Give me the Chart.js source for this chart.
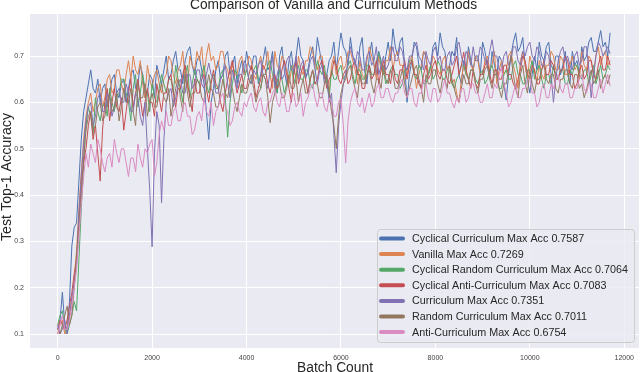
<!DOCTYPE html>
<html>
<head>
<meta charset="utf-8">
<script src="https://cdn.jsdelivr.net/npm/chart.js@4/dist/chart.umd.min.js"></script>
<style>
html,body{margin:0;padding:0;background:#fff;}
#wrap{width:640px;height:372px;position:relative;}
</style>
</head>
<body>
<div id="wrap"><canvas id="c" width="640" height="372"></canvas></div>
<script>
const chartTitle = "Comparison of Vanilla and Curriculum Methods";
const xAxisTitle = "Batch Count";
const yAxisTitle = "Test Top-1 Accuracy";
const xTickValues = [0, 2000, 4000, 6000, 8000, 10000, 12000];
const yTickValues = [0.1, 0.2, 0.3, 0.4, 0.5, 0.6, 0.7];

const batchCount = [
0,50,100,150,200,250,300,350,400,450,500,550,600,650,700,750,800,850,900,950,
1000,1050,1100,1150,1200,1250,1300,1350,1400,1450,1500,1550,1600,1650,1700,1750,1800,1850,1900,1950,
2000,2050,2100,2150,2200,2250,2300,2350,2400,2450,2500,2550,2600,2650,2700,2750,2800,2850,2900,2950,
3000,3050,3100,3150,3200,3250,3300,3350,3400,3450,3500,3550,3600,3650,3700,3750,3800,3850,3900,3950,
4000,4050,4100,4150,4200,4250,4300,4350,4400,4450,4500,4550,4600,4650,4700,4750,4800,4850,4900,4950,
5000,5050,5100,5150,5200,5250,5300,5350,5400,5450,5500,5550,5600,5650,5700,5750,5800,5850,5900,5950,
6000,6050,6100,6150,6200,6250,6300,6350,6400,6450,6500,6550,6600,6650,6700,6750,6800,6850,6900,6950,
7000,7050,7100,7150,7200,7250,7300,7350,7400,7450,7500,7550,7600,7650,7700,7750,7800,7850,7900,7950,
8000,8050,8100,8150,8200,8250,8300,8350,8400,8450,8500,8550,8600,8650,8700,8750,8800,8850,8900,8950,
9000,9050,9100,9150,9200,9250,9300,9350,9400,9450,9500,9550,9600,9650,9700,9750,9800,9850,9900,9950,
10000,10050,10100,10150,10200,10250,10300,10350,10400,10450,10500,10550,10600,10650,10700,10750,10800,10850,10900,10950,
11000,11050,11100,11150,11200,11250,11300,11350,11400,11450,11500,11550,11600,11650,11700];

const seriesNames = [
"Cyclical Curriculum Max Acc 0.7587",
"Vanilla Max Acc 0.7269",
"Cyclical Random Curriculum Max Acc 0.7064",
"Cyclical Anti-Curriculum Max Acc 0.7083",
"Curriculum Max Acc 0.7351",
"Random Curriculum Max Acc 0.7011",
"Anti-Curriculum Max Acc 0.6754"];

const seriesColors = ["#4C72B0","#DD8452","#55A868","#C44E52","#8172B3","#937860","#DA8BC3"];

const cyclicalCurriculum = [
0.11,0.13,0.19,0.12,0.11,0.17,0.29,0.33,0.34,0.43,0.52,0.58,0.61,0.64,0.67,0.63,0.62,0.65,0.60,0.63,
0.64,0.59,0.62,0.65,0.66,0.62,0.61,0.64,0.65,0.60,0.63,0.66,0.67,0.63,0.64,0.68,0.66,0.61,0.62,0.66,
0.65,0.61,0.68,0.66,0.64,0.67,0.70,0.65,0.66,0.69,0.71,0.67,0.67,0.64,0.69,0.71,0.72,0.68,0.66,0.69,
0.70,0.67,0.64,0.58,0.52,0.60,0.63,0.67,0.69,0.65,0.66,0.70,0.71,0.66,0.68,0.70,0.64,0.67,0.69,0.66,
0.71,0.68,0.67,0.70,0.70,0.64,0.66,0.69,0.72,0.67,0.68,0.71,0.65,0.62,0.70,0.72,0.67,0.64,0.69,0.71,
0.66,0.70,0.74,0.70,0.69,0.65,0.67,0.70,0.72,0.68,0.74,0.71,0.68,0.65,0.66,0.69,0.70,0.73,0.67,0.71,
0.75,0.72,0.71,0.68,0.74,0.70,0.69,0.66,0.72,0.74,0.67,0.64,0.70,0.73,0.68,0.66,0.71,0.69,0.66,0.70,
0.73,0.69,0.7587,0.72,0.70,0.73,0.74,0.68,0.60,0.66,0.69,0.73,0.72,0.68,0.67,0.71,0.70,0.66,0.68,0.72,
0.73,0.70,0.75,0.72,0.71,0.67,0.68,0.71,0.70,0.74,0.66,0.64,0.69,0.67,0.72,0.69,0.67,0.70,0.70,0.66,
0.73,0.71,0.68,0.65,0.71,0.68,0.66,0.70,0.69,0.64,0.605,0.66,0.70,0.73,0.75,0.71,0.72,0.74,0.68,0.65,
0.62,0.66,0.70,0.67,0.73,0.70,0.69,0.72,0.73,0.68,0.67,0.70,0.70,0.66,0.68,0.71,0.66,0.64,0.71,0.68,
0.69,0.66,0.72,0.69,0.70,0.73,0.74,0.71,0.71,0.73,0.755,0.72,0.73,0.70,0.75];

const vanilla = [
0.10,0.12,0.13,0.10,0.11,0.14,0.17,0.22,0.28,0.37,0.45,0.52,0.57,0.60,0.62,0.58,0.60,0.63,0.64,0.59,
0.61,0.65,0.66,0.62,0.63,0.67,0.67,0.64,0.62,0.66,0.69,0.65,0.70,0.67,0.66,0.69,0.64,0.61,0.68,0.65,
0.63,0.66,0.67,0.64,0.62,0.65,0.66,0.70,0.69,0.66,0.64,0.67,0.68,0.71,0.65,0.63,0.70,0.68,0.67,0.71,
0.69,0.72,0.66,0.70,0.7269,0.69,0.70,0.67,0.68,0.71,0.71,0.68,0.67,0.64,0.69,0.66,0.66,0.69,0.70,0.66,
0.67,0.70,0.69,0.66,0.65,0.68,0.70,0.67,0.68,0.71,0.66,0.63,0.71,0.68,0.67,0.70,0.69,0.67,0.64,0.67,
0.68,0.65,0.70,0.67,0.66,0.69,0.69,0.72,0.71,0.68,0.67,0.70,0.70,0.66,0.65,0.62,0.68,0.70,0.66,0.69,
0.70,0.67,0.68,0.71,0.71,0.69,0.67,0.64,0.69,0.66,0.65,0.69,0.72,0.70,0.68,0.65,0.70,0.67,0.66,0.69,
0.69,0.72,0.67,0.70,0.71,0.68,0.68,0.65,0.66,0.69,0.70,0.67,0.63,0.66,0.68,0.71,0.70,0.66,0.67,0.70,
0.69,0.67,0.66,0.69,0.70,0.67,0.68,0.64,0.65,0.62,0.60,0.65,0.68,0.66,0.71,0.68,0.67,0.70,0.69,0.66,
0.66,0.69,0.70,0.67,0.68,0.71,0.64,0.67,0.69,0.66,0.67,0.70,0.71,0.68,0.66,0.63,0.69,0.71,0.68,0.65,
0.70,0.68,0.67,0.64,0.69,0.66,0.65,0.68,0.68,0.71,0.70,0.67,0.67,0.70,0.69,0.66,0.66,0.68,0.70,0.67,
0.68,0.65,0.71,0.68,0.67,0.70,0.69,0.66,0.70,0.72,0.68,0.70,0.71,0.68,0.69];

const cyclicalRandomCurriculum = [
0.12,0.14,0.15,0.11,0.10,0.12,0.14,0.17,0.15,0.26,0.37,0.47,0.55,0.59,0.57,0.53,0.61,0.58,0.56,0.59,
0.60,0.57,0.63,0.60,0.58,0.61,0.62,0.65,0.65,0.62,0.60,0.56,0.63,0.66,0.59,0.62,0.66,0.63,0.62,0.58,
0.64,0.61,0.60,0.63,0.66,0.64,0.62,0.65,0.65,0.62,0.68,0.65,0.63,0.60,0.66,0.68,0.61,0.64,0.67,0.65,
0.64,0.66,0.68,0.64,0.62,0.65,0.66,0.63,0.63,0.66,0.67,0.61,0.525,0.60,0.64,0.67,0.66,0.64,0.62,0.65,
0.67,0.65,0.64,0.67,0.68,0.65,0.63,0.66,0.66,0.68,0.69,0.66,0.64,0.62,0.67,0.65,0.62,0.64,0.66,0.68,
0.64,0.66,0.68,0.65,0.65,0.67,0.67,0.64,0.63,0.66,0.69,0.67,0.66,0.68,0.64,0.61,0.67,0.65,0.65,0.67,
0.68,0.65,0.66,0.68,0.69,0.66,0.64,0.67,0.67,0.65,0.65,0.68,0.68,0.66,0.66,0.69,0.7064,0.68,0.67,0.64,
0.65,0.67,0.68,0.66,0.66,0.63,0.64,0.67,0.67,0.69,0.69,0.66,0.65,0.68,0.67,0.64,0.64,0.66,0.68,0.65,
0.66,0.69,0.68,0.65,0.65,0.67,0.67,0.64,0.63,0.65,0.66,0.68,0.68,0.66,0.65,0.67,0.67,0.65,0.64,0.66,
0.67,0.64,0.65,0.67,0.68,0.66,0.66,0.63,0.63,0.66,0.67,0.65,0.65,0.68,0.69,0.66,0.66,0.64,0.64,0.67,
0.67,0.69,0.65,0.67,0.68,0.65,0.63,0.66,0.66,0.64,0.68,0.66,0.65,0.67,0.67,0.64,0.64,0.67,0.66,0.68,
0.68,0.66,0.65,0.67,0.67,0.64,0.66,0.68,0.64,0.66,0.68,0.65,0.66,0.68,0.67];

const cyclicalAntiCurriculum = [
0.11,0.13,0.12,0.11,0.13,0.16,0.19,0.23,0.26,0.34,0.42,0.47,0.50,0.55,0.58,0.52,0.55,0.49,0.43,0.54,
0.60,0.63,0.56,0.60,0.63,0.59,0.58,0.61,0.54,0.58,0.62,0.65,0.59,0.62,0.65,0.61,0.57,0.60,0.63,0.60,
0.60,0.57,0.64,0.61,0.58,0.62,0.62,0.65,0.66,0.62,0.59,0.63,0.63,0.66,0.68,0.64,0.61,0.58,0.65,0.62,
0.62,0.65,0.66,0.63,0.60,0.64,0.67,0.64,0.63,0.60,0.58,0.62,0.65,0.67,0.69,0.65,0.62,0.64,0.66,0.63,
0.63,0.66,0.68,0.65,0.61,0.63,0.65,0.68,0.67,0.64,0.62,0.65,0.66,0.63,0.64,0.67,0.69,0.66,0.63,0.60,
0.66,0.69,0.64,0.66,0.68,0.65,0.62,0.65,0.67,0.64,0.65,0.68,0.69,0.66,0.63,0.65,0.66,0.69,0.68,0.65,
0.64,0.66,0.67,0.64,0.65,0.68,0.69,0.66,0.66,0.63,0.63,0.66,0.68,0.65,0.66,0.69,0.64,0.67,0.69,0.66,
0.66,0.64,0.68,0.65,0.64,0.67,0.67,0.69,0.65,0.68,0.69,0.66,0.66,0.64,0.63,0.66,0.68,0.65,0.66,0.68,
0.69,0.66,0.65,0.67,0.67,0.65,0.64,0.66,0.68,0.70,0.66,0.68,0.7083,0.67,0.65,0.63,0.67,0.64,0.63,0.66,
0.66,0.68,0.69,0.66,0.64,0.67,0.67,0.65,0.65,0.68,0.68,0.66,0.66,0.64,0.63,0.65,0.67,0.70,0.69,0.66,
0.65,0.68,0.67,0.64,0.64,0.67,0.69,0.66,0.66,0.69,0.68,0.65,0.65,0.67,0.67,0.70,0.69,0.66,0.66,0.63,
0.64,0.67,0.68,0.65,0.66,0.69,0.69,0.66,0.65,0.68,0.70,0.67,0.67,0.70,0.68];

const curriculum = [
0.12,0.10,0.11,0.13,0.10,0.14,0.18,0.21,0.25,0.36,0.44,0.51,0.56,0.59,0.60,0.55,0.57,0.61,0.62,0.58,
0.58,0.62,0.61,0.57,0.59,0.62,0.63,0.60,0.60,0.64,0.62,0.58,0.58,0.62,0.61,0.57,0.55,0.60,0.50,0.41,
0.288,0.49,0.58,0.55,0.383,0.52,0.60,0.62,0.63,0.59,0.61,0.64,0.65,0.62,0.62,0.66,0.66,0.63,0.64,0.67,
0.67,0.64,0.63,0.66,0.685,0.66,0.65,0.62,0.62,0.65,0.66,0.68,0.64,0.61,0.67,0.65,0.63,0.66,0.66,0.69,
0.68,0.65,0.64,0.67,0.66,0.68,0.69,0.66,0.65,0.63,0.67,0.70,0.63,0.66,0.68,0.65,0.66,0.69,0.70,0.67,
0.67,0.70,0.65,0.68,0.69,0.66,0.66,0.69,0.70,0.67,0.64,0.67,0.68,0.64,0.66,0.60,0.62,0.53,0.448,0.55,
0.60,0.64,0.66,0.69,0.72,0.70,0.68,0.71,0.70,0.67,0.67,0.70,0.71,0.68,0.69,0.72,0.66,0.68,0.70,0.67,
0.68,0.70,0.72,0.69,0.69,0.72,0.71,0.68,0.67,0.70,0.70,0.72,0.73,0.70,0.69,0.67,0.71,0.69,0.68,0.71,
0.72,0.69,0.70,0.67,0.67,0.70,0.71,0.68,0.69,0.72,0.73,0.70,0.68,0.71,0.70,0.68,0.72,0.69,0.69,0.72,
0.71,0.69,0.68,0.71,0.7351,0.70,0.70,0.67,0.67,0.70,0.71,0.68,0.69,0.72,0.72,0.69,0.68,0.71,0.70,0.72,
0.73,0.70,0.69,0.72,0.71,0.68,0.68,0.71,0.70,0.66,0.60,0.65,0.69,0.71,0.72,0.69,0.70,0.68,0.67,0.70,
0.71,0.68,0.69,0.72,0.72,0.67,0.61,0.66,0.70,0.73,0.72,0.70,0.71,0.72,0.705];

const randomCurriculum = [
0.11,0.10,0.12,0.14,0.16,0.12,0.14,0.20,0.27,0.33,0.40,0.48,0.54,0.57,0.58,0.54,0.55,0.59,0.60,0.56,
0.57,0.60,0.62,0.58,0.59,0.62,0.56,0.59,0.63,0.60,0.60,0.63,0.58,0.55,0.64,0.61,0.61,0.64,0.57,0.60,
0.62,0.59,0.59,0.62,0.64,0.61,0.60,0.63,0.57,0.60,0.63,0.65,0.61,0.58,0.66,0.62,0.59,0.62,0.62,0.65,
0.64,0.61,0.60,0.63,0.66,0.63,0.62,0.59,0.59,0.62,0.65,0.62,0.61,0.64,0.63,0.60,0.58,0.61,0.64,0.62,
0.62,0.64,0.66,0.63,0.60,0.62,0.63,0.66,0.65,0.61,0.556,0.60,0.62,0.65,0.64,0.61,0.61,0.63,0.66,0.63,
0.63,0.65,0.60,0.63,0.65,0.62,0.62,0.65,0.67,0.64,0.64,0.61,0.61,0.64,0.66,0.62,0.58,0.55,0.50,0.57,
0.62,0.64,0.65,0.67,0.68,0.65,0.63,0.61,0.66,0.64,0.64,0.66,0.67,0.64,0.62,0.65,0.65,0.63,0.68,0.65,
0.64,0.67,0.66,0.63,0.63,0.65,0.67,0.64,0.61,0.63,0.65,0.67,0.68,0.65,0.63,0.60,0.66,0.64,0.64,0.67,
0.67,0.64,0.62,0.65,0.65,0.63,0.68,0.65,0.63,0.61,0.60,0.63,0.66,0.64,0.64,0.67,0.67,0.64,0.62,0.65,
0.65,0.67,0.68,0.65,0.63,0.66,0.66,0.63,0.61,0.64,0.64,0.67,0.7011,0.66,0.63,0.61,0.66,0.68,0.64,0.62,
0.67,0.64,0.62,0.65,0.65,0.67,0.68,0.65,0.64,0.66,0.66,0.63,0.62,0.65,0.65,0.67,0.67,0.64,0.63,0.66,
0.66,0.63,0.64,0.61,0.627,0.65,0.67,0.64,0.65,0.67,0.63,0.65,0.66,0.64,0.66];

const antiCurriculum = [
0.10,0.12,0.14,0.11,0.11,0.13,0.16,0.20,0.24,0.31,0.38,0.44,0.49,0.46,0.51,0.49,0.47,0.52,0.50,0.47,
0.45,0.48,0.49,0.46,0.52,0.49,0.47,0.50,0.50,0.47,0.44,0.48,0.48,0.45,0.51,0.48,0.46,0.50,0.49,0.51,
0.52,0.44,0.47,0.53,0.56,0.54,0.58,0.55,0.55,0.58,0.59,0.56,0.56,0.59,0.60,0.57,0.57,0.53,0.54,0.57,
0.58,0.56,0.61,0.58,0.57,0.60,0.55,0.58,0.59,0.61,0.62,0.59,0.58,0.55,0.56,0.59,0.60,0.58,0.57,0.60,
0.59,0.61,0.62,0.59,0.58,0.60,0.61,0.58,0.57,0.60,0.60,0.62,0.63,0.60,0.59,0.62,0.61,0.58,0.58,0.61,
0.62,0.59,0.60,0.62,0.57,0.60,0.61,0.63,0.64,0.61,0.59,0.62,0.62,0.59,0.58,0.61,0.60,0.57,0.57,0.60,
0.61,0.55,0.469,0.56,0.60,0.62,0.63,0.60,0.59,0.61,0.577,0.60,0.62,0.59,0.60,0.63,0.64,0.61,0.61,0.63,
0.63,0.61,0.60,0.62,0.62,0.64,0.65,0.62,0.61,0.63,0.63,0.60,0.59,0.62,0.62,0.65,0.64,0.61,0.60,0.63,
0.63,0.60,0.61,0.63,0.65,0.62,0.62,0.60,0.588,0.61,0.60,0.63,0.63,0.60,0.61,0.64,0.64,0.62,0.62,0.60,
0.60,0.62,0.64,0.61,0.61,0.64,0.63,0.66,0.6754,0.64,0.62,0.59,0.60,0.62,0.64,0.61,0.61,0.63,0.63,0.65,
0.65,0.62,0.62,0.59,0.60,0.63,0.64,0.61,0.61,0.64,0.63,0.65,0.66,0.63,0.62,0.64,0.64,0.61,0.61,0.63,
0.63,0.65,0.66,0.63,0.62,0.64,0.64,0.61,0.61,0.63,0.65,0.62,0.64,0.66,0.635];

const allSeries = [cyclicalCurriculum, vanilla, cyclicalRandomCurriculum, cyclicalAntiCurriculum, curriculum, randomCurriculum, antiCurriculum];

const FONT = "'Liberation Sans', Arial, Helvetica, sans-serif";
const TEXT = "#262626";

const datasets = allSeries.map((s, i) => ({
  label: seriesNames[i],
  data: s.map((v, j) => ({x: batchCount[j], y: v})),
  borderColor: seriesColors[i],
  backgroundColor: seriesColors[i],
  borderWidth: 1,
  pointRadius: 0,
  tension: 0,
  fill: false,
  order: 6 - i
}));

// choose a font size so that the text spans the target width
function fitFont(ctx, text, targetWidth) {
  ctx.font = "20px " + FONT;
  const w = ctx.measureText(text).width;
  const size = 20 * targetWidth / w;
  ctx.font = size.toFixed(2) + "px " + FONT;
  return size;
}

const decor = {
  id: 'decor',
  beforeDraw(chart) {
    const {ctx, chartArea: a} = chart;
    ctx.save();
    ctx.fillStyle = '#ffffff';
    ctx.fillRect(0, 0, chart.width, chart.height);
    ctx.fillStyle = '#EAEAF2';
    ctx.fillRect(a.left, a.top, a.right - a.left, a.bottom - a.top);
    ctx.restore();
  },
  afterDraw(chart) {
    const {ctx, chartArea: a} = chart;
    ctx.save();
    ctx.fillStyle = TEXT;
    ctx.textAlign = 'center';
    ctx.textBaseline = 'alphabetic';
    fitFont(ctx, chartTitle, 287);
    ctx.fillText(chartTitle, 333.5, 9);
    fitFont(ctx, xAxisTitle, 76);
    ctx.fillText(xAxisTitle, 335, 372);
    ctx.save();
    ctx.translate(11, 177);
    ctx.rotate(-Math.PI / 2);
    fitFont(ctx, yAxisTitle, 128);
    ctx.fillText(yAxisTitle, 0, 0);
    ctx.restore();

    const bx = 377, by = 229, bw = 257, bh = 113;
    ctx.beginPath();
    if (ctx.roundRect) ctx.roundRect(bx + 0.5, by + 0.5, bw, bh, 3); else ctx.rect(bx + 0.5, by + 0.5, bw, bh);
    ctx.fillStyle = 'rgba(234,234,242,0.8)';
    ctx.fill();
    ctx.strokeStyle = '#CCCCCC';
    ctx.lineWidth = 1;
    ctx.stroke();
    fitFont(ctx, seriesNames[2], 216);
    ctx.textAlign = 'left';
    ctx.textBaseline = 'middle';
    for (let i = 0; i < seriesNames.length; i++) {
      const yy = 238.5 + i * 15.6;
      ctx.beginPath();
      ctx.strokeStyle = seriesColors[i];
      ctx.lineWidth = 4;
      ctx.lineCap = 'round';
      ctx.moveTo(381, yy);
      ctx.lineTo(403, yy);
      ctx.stroke();
      ctx.fillStyle = TEXT;
      ctx.fillText(seriesNames[i], 412, yy + 0.5);
    }
    ctx.restore();
  }
};

new Chart(document.getElementById('c'), {
  type: 'line',
  data: { datasets },
  options: {
    responsive: false,
    animation: false,
    devicePixelRatio: 1,
    layout: { padding: { top: 14, right: 0, left: 0, bottom: 0 } },
    plugins: { legend: { display: false }, title: { display: false }, tooltip: { enabled: false } },
    scales: {
      x: {
        type: 'linear',
        min: -586, max: 12312,
        afterBuildTicks: s => { s.ticks = xTickValues.map(v => ({value: v})); },
        afterFit: s => { s.height = 24; },
        grid: { color: '#ffffff', lineWidth: 1, drawTicks: false },
        border: { display: false },
        ticks: { font: { size: 7, family: FONT }, color: '#444', padding: 6, maxRotation: 0,
                 callback: v => String(v) }
      },
      y: {
        type: 'linear',
        min: 0.0698, max: 0.7907,
        afterBuildTicks: s => { s.ticks = yTickValues.map(v => ({value: v})); },
        afterFit: s => { s.width = 30; },
        grid: { color: '#ffffff', lineWidth: 1, drawTicks: false },
        border: { display: false },
        ticks: { font: { size: 7, family: FONT }, color: '#444', padding: 6,
                 callback: v => v.toFixed(1) }
      }
    }
  },
  plugins: [decor]
});
</script>
</body>
</html>
